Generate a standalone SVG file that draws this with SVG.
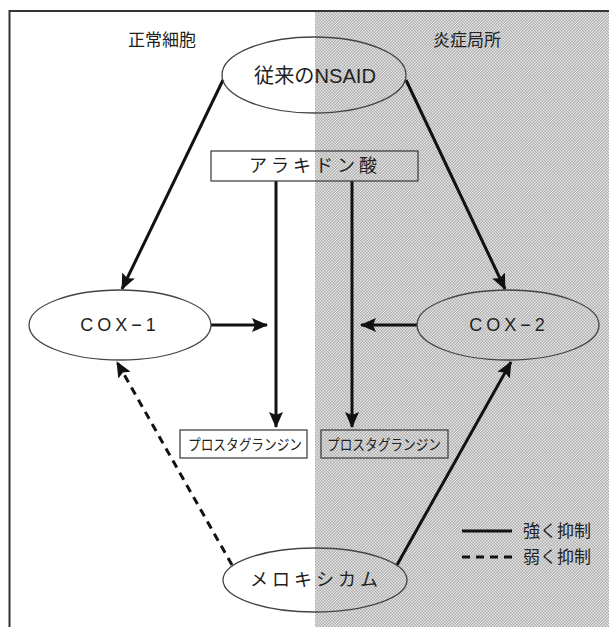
<svg xmlns="http://www.w3.org/2000/svg" width="609" height="627" viewBox="0 0 609 627">
<defs>
<pattern id="dots" width="3" height="3" patternUnits="userSpaceOnUse">
<rect width="3" height="3" fill="#e6e6e6"/>
<rect width="1.5" height="1.5" fill="#ababab"/>
<rect x="1.5" y="1.5" width="1.5" height="1.5" fill="#ababab"/>
</pattern>
<marker id="ah" viewBox="0 0 16 14" refX="15" refY="7" markerWidth="16" markerHeight="14" markerUnits="userSpaceOnUse" orient="auto">
<path d="M0,0 L16,7 L0,14 L3,7 z" fill="#111"/>
</marker>
<style>
.lbl{font-family:"Liberation Sans","Noto Sans CJK JP",sans-serif;fill:#222;text-anchor:middle;dominant-baseline:central}
.node{fill:none;stroke:#444;stroke-width:1.3}
.box{fill:none;stroke:#444;stroke-width:1.3}
.con{stroke:#111;stroke-width:3;fill:none;marker-end:url(#ah)}
.weak{stroke-dasharray:8,6}
</style>
</defs>
<rect width="609" height="627" fill="#fff"/>
<rect x="315" y="12" width="294" height="615" fill="url(#dots)"/>
<path d="M9.5,627 V11 H609" fill="none" stroke="#333" stroke-width="2"/>
<text class="lbl" x="162" y="40" font-size="17">正常細胞</text>
<text class="lbl" x="467" y="40" font-size="17">炎症局所</text>
<g id="connectors">
<line class="con" x1="223" y1="80" x2="122" y2="289"/>
<line class="con" x1="406" y1="80" x2="505" y2="289"/>
<line class="con" x1="276" y1="181" x2="276" y2="427"/>
<line class="con" x1="352" y1="181" x2="352" y2="427"/>
<line class="con" x1="211" y1="325" x2="267" y2="325"/>
<line class="con" x1="417" y1="325" x2="361" y2="325"/>
<line class="con weak" x1="232" y1="565" x2="117" y2="362"/>
<line class="con" x1="397" y1="565" x2="511" y2="362"/>
</g>
<g id="nsaid">
<ellipse class="node" cx="314" cy="75" rx="92" ry="38"/>
<text class="lbl" x="315" y="76" font-size="20" textLength="122" lengthAdjust="spacingAndGlyphs">従来のNSAID</text>
</g>
<g id="arachidonic">
<rect class="box" x="211" y="151" width="207" height="30"/>
<text class="lbl" x="315" y="166" font-size="18" letter-spacing="4">アラキドン酸</text>
</g>
<g id="cox1">
<ellipse class="node" cx="120" cy="325" rx="91" ry="35"/>
<text class="lbl" x="120" y="325" font-size="18" letter-spacing="4">COX−1</text>
</g>
<g id="cox2">
<ellipse class="node" cx="508" cy="325" rx="91" ry="35"/>
<text class="lbl" x="509" y="325" font-size="18" letter-spacing="4">COX−2</text>
</g>
<g id="pg1">
<rect class="box" x="180" y="430" width="127" height="28"/>
<text class="lbl" x="245" y="444" font-size="15" textLength="114" lengthAdjust="spacingAndGlyphs">プロスタグランジン</text>
</g>
<g id="pg2">
<rect class="box" x="321" y="430" width="127" height="28"/>
<text class="lbl" x="384" y="444" font-size="15" textLength="114" lengthAdjust="spacingAndGlyphs">プロスタグランジン</text>
</g>
<g id="meloxicam">
<ellipse class="node" cx="315" cy="580" rx="92" ry="32"/>
<text class="lbl" x="316" y="580" font-size="18" letter-spacing="4">メロキシカム</text>
</g>
<g id="legend">
<line x1="462" y1="531" x2="512" y2="531" stroke="#111" stroke-width="3"/>
<line x1="462" y1="557" x2="512" y2="557" stroke="#111" stroke-width="3" stroke-dasharray="8,6"/>
<text class="lbl" x="557" y="531" font-size="17">強く抑制</text>
<text class="lbl" x="557" y="557" font-size="17">弱く抑制</text>
</g>
</svg>
